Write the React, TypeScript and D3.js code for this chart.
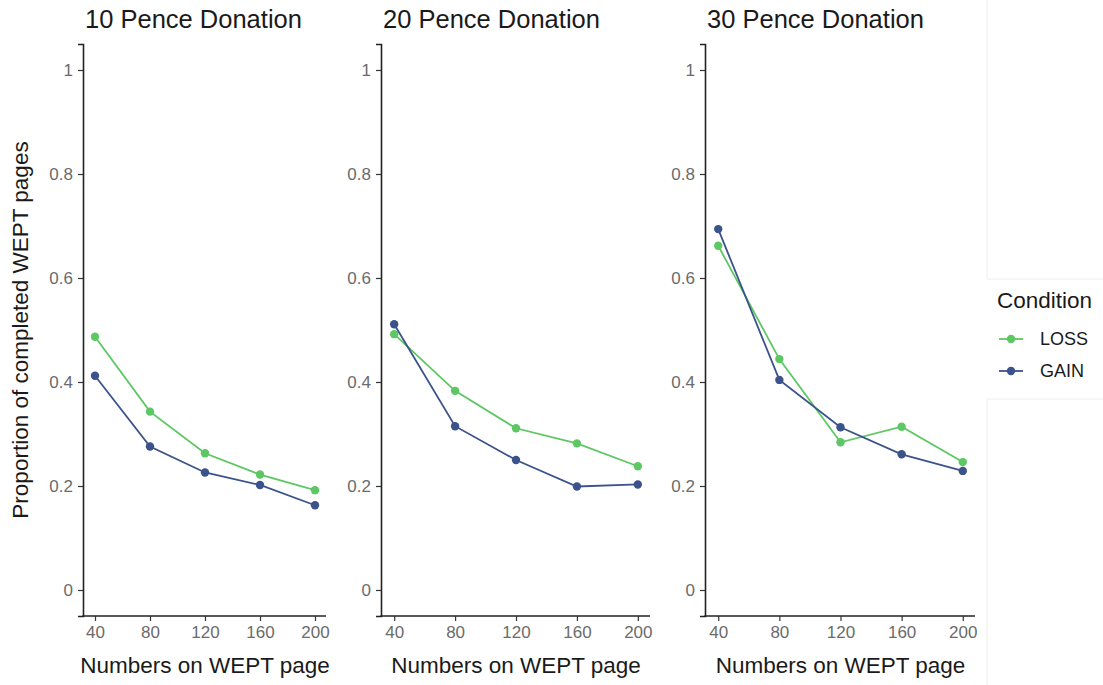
import { useEffect, useRef } from "react";
import * as d3 from "d3";

const pages = [40, 80, 120, 160, 200];
const panelTitles = ["10 Pence Donation", "20 Pence Donation", "30 Pence Donation"];
const yTicks = [0, 0.2, 0.4, 0.6, 0.8, 1];

const loss10 = [0.487, 0.343, 0.263, 0.222, 0.192];
const gain10 = [0.412, 0.276, 0.226, 0.202, 0.163];
const loss20 = [0.492, 0.383, 0.311, 0.282, 0.238];
const gain20 = [0.511, 0.315, 0.25, 0.199, 0.203];
const loss30 = [0.662, 0.444, 0.284, 0.314, 0.246];
const gain30 = [0.694, 0.404, 0.313, 0.261, 0.229];

const conditions = ["LOSS", "GAIN"];
const colors = ["#5DC863", "#3B528B"];

const panelRanges: [number, number][] = [
  [84, 326],
  [382, 650],
  [706, 975],
];

const FONT = "'Liberation Sans', Arial, sans-serif";

const App = () => {
  const svgRef = useRef<SVGSVGElement | null>(null);

  useEffect(() => {
    const svg = d3.select(svgRef.current);
    svg.selectAll("*").remove();

    const series = [
      [loss10, gain10],
      [loss20, gain20],
      [loss30, gain30],
    ];

    const y = d3.scaleLinear().domain([-0.05, 1.05]).range([616, 44]);

    // faint legend panel edges
    const edge = svg.append("g").attr("stroke", "#ececec").attr("fill", "none");
    edge.append("line").attr("x1", 987).attr("x2", 987).attr("y1", 0).attr("y2", 279);
    edge.append("line").attr("x1", 987).attr("x2", 1103).attr("y1", 279).attr("y2", 279);
    edge.append("line").attr("x1", 987).attr("x2", 1103).attr("y1", 399).attr("y2", 399);
    edge.append("line").attr("x1", 987).attr("x2", 987).attr("y1", 399).attr("y2", 685);

    panelTitles.forEach((title, p) => {
      const [x0, x1] = panelRanges[p];
      const x = d3.scaleLinear().domain([32, 208]).range([x0, x1]);
      const g = svg.append("g");

      g.append("text")
        .attr("x", x0 + 1)
        .attr("y", 28)
        .attr("font-size", 25.5)
        .attr("fill", "#1a1a1a")
        .text(title);

      const yAxis = g
        .append("g")
        .attr("transform", `translate(${x0 - 1},0)`)
        .call(
          d3
            .axisLeft(y)
            .tickValues(yTicks)
            .tickSize(5)
            .tickPadding(5)
            .tickFormat((d) => String(+d)),
        );
      yAxis.select(".domain").attr("stroke", "#222").attr("stroke-width", 1.6);
      yAxis.selectAll(".tick line").attr("stroke", "#333").attr("stroke-width", 1.2);
      yAxis
        .selectAll(".tick text")
        .attr("fill", "#6b6b6b")
        .attr("font-size", 17)
        .attr("font-family", FONT);

      const xAxis = g
        .append("g")
        .attr("transform", `translate(0,${y(-0.05)})`)
        .call(d3.axisBottom(x).tickValues(pages).tickSize(5).tickPadding(5));
      xAxis
        .select(".domain")
        .attr("d", `M${x0 - 1.6},0H${x1}`)
        .attr("stroke", "#222")
        .attr("stroke-width", 1.6);
      xAxis.selectAll(".tick line").attr("stroke", "#333").attr("stroke-width", 1.2);
      xAxis
        .selectAll(".tick text")
        .attr("fill", "#6b6b6b")
        .attr("font-size", 17)
        .attr("font-family", FONT);

      g.append("text")
        .attr("x", (x0 + x1) / 2)
        .attr("y", 673)
        .attr("text-anchor", "middle")
        .attr("font-size", 22.5)
        .attr("fill", "#1a1a1a")
        .text("Numbers on WEPT page");

      const line = d3
        .line<number>()
        .x((_, i) => x(pages[i]))
        .y((d) => y(d));

      series[p].forEach((vals, s) => {
        g.append("path")
          .datum(vals)
          .attr("d", line)
          .attr("fill", "none")
          .attr("stroke", colors[s])
          .attr("stroke-width", 1.8);
        g.selectAll(`.pt${s}`)
          .data(vals)
          .enter()
          .append("circle")
          .attr("cx", (_, i) => x(pages[i]))
          .attr("cy", (d) => y(d))
          .attr("r", 4.2)
          .attr("fill", colors[s]);
      });
    });

    svg
      .append("text")
      .attr("transform", `translate(28,${y(0.5)}) rotate(-90)`)
      .attr("text-anchor", "middle")
      .attr("font-size", 22.5)
      .attr("fill", "#1a1a1a")
      .text("Proportion of completed WEPT pages");

    const legend = svg.append("g");
    legend
      .append("text")
      .attr("x", 997)
      .attr("y", 308)
      .attr("font-size", 22.5)
      .attr("fill", "#1a1a1a")
      .text("Condition");
    conditions.forEach((c, i) => {
      const ly = 339 + i * 32;
      legend
        .append("line")
        .attr("x1", 999)
        .attr("x2", 1023)
        .attr("y1", ly)
        .attr("y2", ly)
        .attr("stroke", colors[i])
        .attr("stroke-width", 1.8);
      legend.append("circle").attr("cx", 1011).attr("cy", ly).attr("r", 4.2).attr("fill", colors[i]);
      legend
        .append("text")
        .attr("x", 1040)
        .attr("y", ly + 6)
        .attr("font-size", 18)
        .attr("fill", "#1a1a1a")
        .text(c);
    });
  });

  return (
    <svg
      ref={svgRef}
      width={1103}
      height={685}
      style={{ position: "absolute", left: 0, top: 0, fontFamily: FONT, background: "#fff" }}
    />
  );
};

export default App;
